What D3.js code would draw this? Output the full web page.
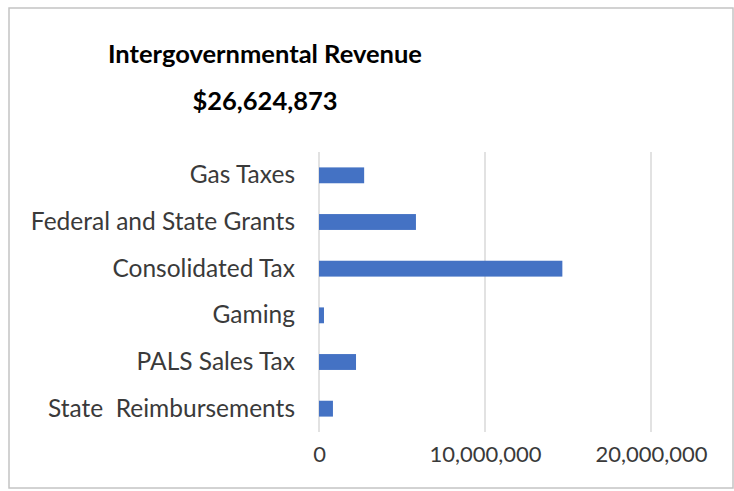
<!DOCTYPE html>
<html>
<head>
<meta charset="utf-8">
<script src="https://cdn.jsdelivr.net/npm/d3@7"></script>
<style>
  html, body { margin: 0; padding: 0; background: #ffffff; }
  svg { display: block; }
</style>
</head>
<body>
<svg id="chart" width="734" height="491"></svg>
<script>
// Revenue sources, top to bottom
const categories = [
  "Gas Taxes",
  "Federal and State Grants",
  "Consolidated Tax",
  "Gaming",
  "PALS Sales Tax",
  "State  Reimbursements"
];
// Amounts in dollars
const values = [2720000, 5840000, 14660000, 300000, 2230000, 840000];
const tickValues = [0, 10000000, 20000000];
const titleLines = ["Intergovernmental Revenue", "$26,624,873"];

const svg = d3.select("#chart");
const fontFamily = "Lato, 'Open Sans', sans-serif";

// Outer chart frame
svg.append("rect")
  .attr("x", 9).attr("y", 8)
  .attr("width", 724).attr("height", 480)
  .attr("fill", "#ffffff")
  .attr("stroke", "#c4c4c4")
  .attr("stroke-width", 1.5);

// Title
svg.append("g")
  .selectAll("text")
  .data(titleLines)
  .join("text")
  .attr("x", 265)
  .attr("y", (d, i) => 63 + i * 47)
  .attr("text-anchor", "middle")
  .attr("font-family", fontFamily)
  .attr("font-weight", "bold")
  .attr("font-size", 25.5)
  .attr("fill", "#000000")
  .text(d => d);

const x = d3.scaleLinear().domain([0, 25000000]).range([319, 734]);
const y = d3.scaleBand()
  .domain(categories)
  .range([152, 432])
  .paddingInner(0.66)
  .paddingOuter(0.33);

// Vertical gridlines
svg.append("g")
  .selectAll("line")
  .data(tickValues)
  .join("line")
  .attr("x1", d => x(d)).attr("x2", d => x(d))
  .attr("y1", 152).attr("y2", 432)
  .attr("stroke", "#d9d9d9")
  .attr("stroke-width", 1.5);

// Bars
svg.append("g")
  .selectAll("rect")
  .data(values)
  .join("rect")
  .attr("x", x(0))
  .attr("y", (d, i) => y(categories[i]))
  .attr("width", d => x(d) - x(0))
  .attr("height", y.bandwidth())
  .attr("fill", "#4472c4");

// Category axis labels
const yAxis = d3.axisLeft(y).tickSize(0).tickPadding(24);
const yg = svg.append("g").attr("transform", `translate(${x(0)},0)`).call(yAxis);
yg.select(".domain").remove();
yg.selectAll("text")
  .attr("font-family", fontFamily)
  .attr("font-size", 24.5)
  .attr("fill", "#3a3a3a")
  .style("white-space", "pre");

// Value axis labels
const xAxis = d3.axisBottom(x)
  .tickValues(tickValues)
  .tickSize(0)
  .tickPadding(14)
  .tickFormat(d3.format(","));
const xg = svg.append("g").attr("transform", "translate(0,432)").call(xAxis);
xg.select(".domain").remove();
xg.selectAll("text")
  .attr("font-family", fontFamily)
  .attr("font-size", 22)
  .attr("fill", "#3a3a3a");
</script>
</body>
</html>
